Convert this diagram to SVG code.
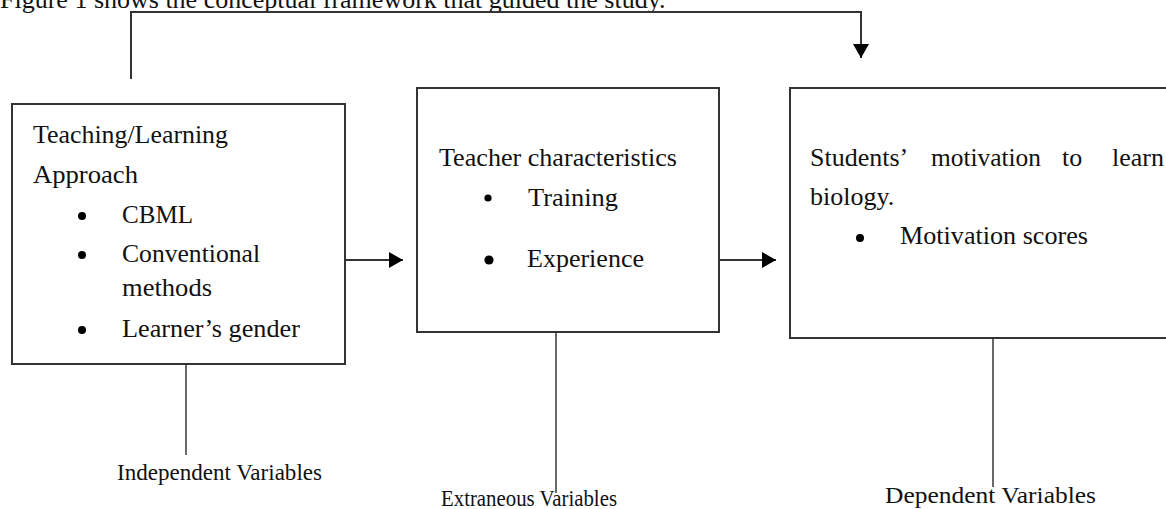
<svg xmlns="http://www.w3.org/2000/svg" width="1166" height="509" viewBox="0 0 1166 509">
<defs>
<style>
text{font-family:"Liberation Serif","Times New Roman",serif;fill:#111;font-size:26px}
.lbl{font-size:23px}
.box{fill:#fff;stroke:#333;stroke-width:2}
.ln{stroke:#333;stroke-width:2;fill:none}
.thin{stroke:#444;stroke-width:1.6;fill:none}
.dot{fill:#000}
</style>
<marker id="ah" markerWidth="8" markerHeight="8" refX="7" refY="4" orient="auto" markerUnits="strokeWidth">
<path d="M0,0 L7,4 L0,8 Z" fill="#000"/>
</marker>
</defs>
<rect width="1166" height="509" fill="#fff"/>
<text id="title" x="0" y="8" font-size="26.5">Figure 1 shows the conceptual framework that guided the study.</text>
<g id="connectors">
<path class="ln" d="M131,79 V12 H861 V58" marker-end="url(#ah)"/>
<path class="ln" d="M346,260 H403" marker-end="url(#ah)"/>
<path class="ln" d="M719,260 H776" marker-end="url(#ah)"/>
<line class="thin" x1="186" y1="335" x2="186" y2="455"/>
<line class="thin" x1="556" y1="310" x2="556" y2="493"/>
<line class="thin" x1="993" y1="327" x2="993" y2="487"/>
</g>
<g id="node-independent">
<rect class="box" x="12" y="104" width="333" height="260"/>
<text x="33" y="143" textLength="195" lengthAdjust="spacingAndGlyphs">Teaching/Learning</text>
<text x="33" y="183" textLength="105" lengthAdjust="spacingAndGlyphs">Approach</text>
<circle class="dot" cx="82" cy="216" r="4"/>
<text x="122" y="223" textLength="71" lengthAdjust="spacingAndGlyphs">CBML</text>
<circle class="dot" cx="82" cy="255" r="4"/>
<text x="122" y="262" textLength="138" lengthAdjust="spacingAndGlyphs">Conventional</text>
<text x="122" y="296" textLength="90" lengthAdjust="spacingAndGlyphs">methods</text>
<circle class="dot" cx="82" cy="330" r="4"/>
<text x="122" y="337" textLength="178" lengthAdjust="spacingAndGlyphs">Learner’s gender</text>
</g>
<g id="node-extraneous">
<rect class="box" x="417" y="88" width="302" height="244"/>
<text x="439" y="166" textLength="238" lengthAdjust="spacingAndGlyphs">Teacher characteristics</text>
<circle class="dot" cx="488" cy="198" r="3.6"/>
<text x="528" y="206" textLength="90" lengthAdjust="spacingAndGlyphs">Training</text>
<circle class="dot" cx="489" cy="260" r="4.6"/>
<text x="527" y="267" textLength="117" lengthAdjust="spacingAndGlyphs">Experience</text>
</g>
<g id="node-dependent">
<rect class="box" x="790" y="88" width="400" height="250"/>
<text x="810" y="166">Students’</text>
<text x="931" y="166" textLength="110" lengthAdjust="spacingAndGlyphs">motivation</text>
<text x="1062" y="166">to</text>
<text x="1112" y="166">learn</text>
<text x="810" y="205">biology.</text>
<circle class="dot" cx="860" cy="238" r="4"/>
<text x="900" y="244" textLength="188" lengthAdjust="spacingAndGlyphs">Motivation scores</text>
</g>
<g id="labels">
<text class="lbl" x="117" y="480" textLength="205" lengthAdjust="spacingAndGlyphs">Independent Variables</text>
<text class="lbl" x="441" y="506" textLength="176" lengthAdjust="spacingAndGlyphs">Extraneous Variables</text>
<text class="lbl" x="885" y="503" textLength="211" lengthAdjust="spacingAndGlyphs">Dependent Variables</text>
</g>
</svg>
